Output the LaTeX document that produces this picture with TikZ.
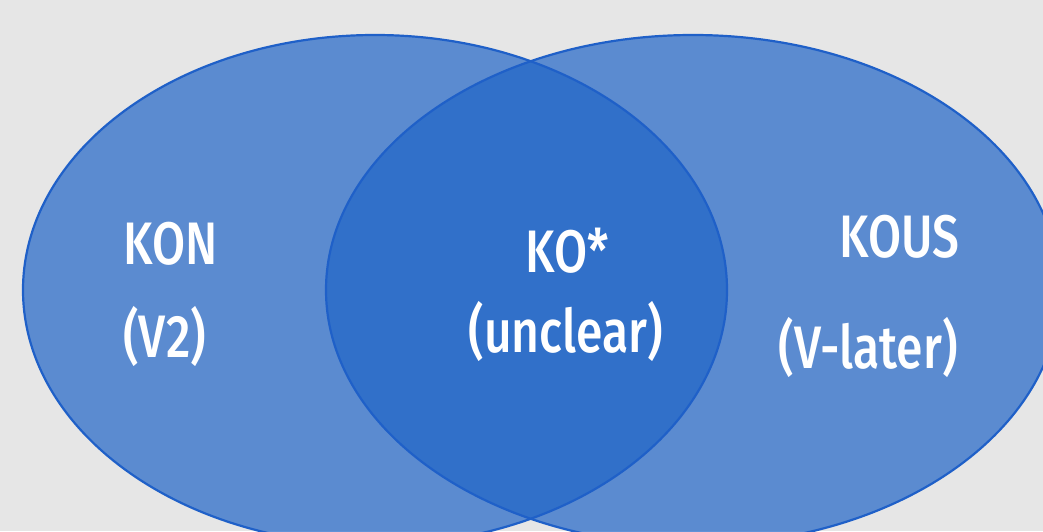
\documentclass[tikz,border=0pt]{standalone}
\usepackage{fontspec}
\setmainfont{Fira Sans}[FakeStretch=0.8]
\newfontfamily\setfont{Fira Sans Medium}[FakeStretch=0.8]
\definecolor{bggray}{HTML}{E6E6E6}
\definecolor{setblue}{RGB}{32,101,199}
\definecolor{rimblue}{RGB}{31,96,200}

\begin{document}
\begin{tikzpicture}[x=0.5pt, y=0.5pt,
        setfill/.style={fill=setblue, fill opacity=0.7},
        rim/.style={draw=rimblue, line width=1.1pt},
        settext/.style={text=white, inner sep=0pt, font=\setfont\fontsize{30}{36}\selectfont}
    ]

    % Background
    \fill[bggray] (0,0) rectangle (1043,531);
    \useasboundingbox (0,0) rectangle (1043,531);
    \clip (0,0) rectangle (1043,531);

    % Sets
    \fill[setfill] (375,241) ellipse [x radius=352, y radius=255];
    \fill[setfill] (693,241) ellipse [x radius=367, y radius=255];
    \draw[rim] (375,241) ellipse [x radius=352, y radius=255];
    \draw[rim] (693,241) ellipse [x radius=367, y radius=255];

    % Labels
    \node[settext, anchor=base west] (kon) at (123,267) {KON};
    \node[settext, anchor=base west] (konv) at (123,174) {(V2)};
    \node[settext, anchor=base] (ko) at (567,259) {KO*};
    \node[settext, anchor=base] (kounclear) at (566,179) {(unclear)};
    \node[settext, anchor=base east] (kous) at (960,274) {KOUS};
    \node[settext, anchor=base east] (kousv) at (958,163) {(V-later)};

\end{tikzpicture}
\end{document}
